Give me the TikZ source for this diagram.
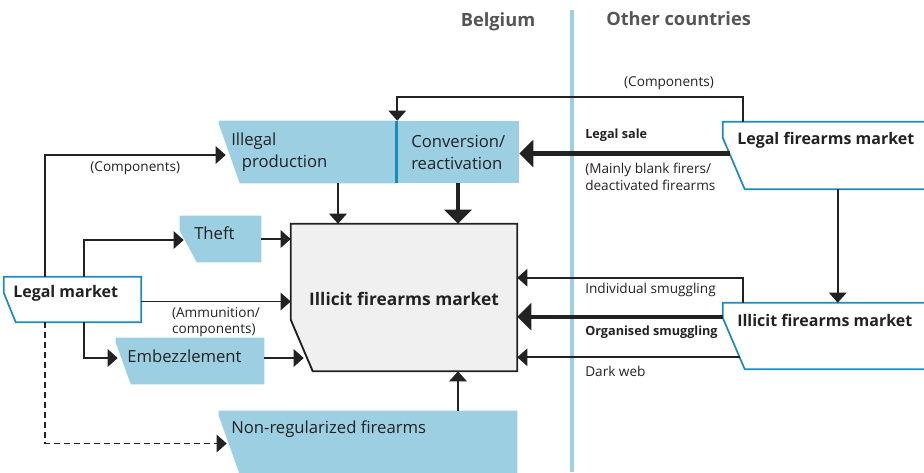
\documentclass[tikz,border=0pt]{standalone}
\usepackage{fontspec}
\setmainfont{Open Sans}
\usetikzlibrary{arrows.meta,calc,fit}
\definecolor{lblue}{HTML}{9BCFE1}
\definecolor{dblue}{HTML}{1A8DBB}
\definecolor{lgrey}{HTML}{F0F0F0}
\definecolor{ink}{HTML}{222222}
\definecolor{head}{HTML}{555555}

\begin{document}
\begin{tikzpicture}[x=0.75pt, y=-0.75pt,
    box/.style = {inner sep=0pt},
    lbl/.style = {font=\fontsize{10.2}{12.5}\selectfont, text=ink, align=left, inner sep=0pt},
    lblb/.style = {lbl, font=\bfseries\fontsize{9.5}{12}\selectfont},
    txt/.style = {font=\fontsize{12.5}{16.5}\selectfont, text=ink, align=left, inner sep=0pt},
    ttl/.style = {font=\bfseries\fontsize{12}{14}\selectfont, text=ink, inner sep=0pt},
    hd/.style = {font=\bfseries\fontsize{13.7}{16}\selectfont, text=head, inner sep=0pt},
    arr/.style = {draw=ink, line width=1.35pt, -{Triangle[length=7.5pt,width=13pt]}},
    bigarr/.style = {draw=ink, line width=3.3pt, -{Triangle[length=10.5pt,width=20pt]}},
    blue/.style = {fill=lblue},
    outl/.style = {fill=white, draw=dblue, line width=1.3pt},
    cbox/.style = {fill=lgrey, draw=ink, line width=1.4pt}]
      \useasboundingbox (0,0) rectangle (924,472);
      \clip (0,0) rectangle (924,472);

      % boxes
      \node [box, fit={(4,277) (141,322)}] (lm) {};
      \node [box, fit={(219,121) (397,183)}] (illprod) {};
      \node [box, fit={(397,121) (519,183)}] (conv) {};
      \node [box, fit={(180,216) (261,262)}] (theft) {};
      \node [box, fit={(116,338) (264,384)}] (emb) {};
      \node [box, fit={(219,411) (517,480)}] (nonreg) {};
      \node [box, fit={(291,224) (517,371)}] (central) {};
      \node [box, fit={(723,122) (935,189)}] (lfm) {};
      \node [box, fit={(723,303) (935,369)}] (ifm) {};

      \draw [lblue, line width=3pt] (572,10) -- (572,472);

      \foreach \n/\v/\d/\s in {lm/16/12/outl, lfm/16/22/outl, ifm/15/22/outl,
                               illprod/3/21/blue, theft/15/17/blue, emb/5/15/blue,
                               nonreg/5/23/blue, central/96/22/cbox}
               {
                 \path [\s] (\n.north west) -- (\n.north east) -- (\n.south east)
                   -- ($ (\n.south west) + (\d,0) $) -- ($ (\n.north west) + (0,\v) $) -- cycle;
               }
      \path [blue] (conv.north west) rectangle (conv.south east);
      \draw [dblue, line width=2pt] (conv.north west) -- (conv.south west);

      % texts
      \node [ttl, font=\bfseries\fontsize{13}{15}\selectfont] (central-t) at ($ (central) + (0,1) $) {Illicit firearms market};
      \node [ttl, anchor=west] (lm-t) at (13,293) {Legal market};
      \node [txt, anchor=west] (illprod-t) at (231,152) {Illegal\\\hspace*{8pt}production};
      \node [txt, anchor=west] (conv-t) at (411,152) {Conversion/\\reactivation};
      \node [txt, anchor=west] (theft-t) at (194,233) {Theft};
      \node [txt, anchor=west] (emb-t) at (127,356) {Embezzlement};
      \node [txt, anchor=west] (nonreg-t) at (231,429) {Non-regularized firearms};
      \node [ttl, anchor=west] (lfm-t) at (737,140) {Legal firearms market};
      \node [ttl, anchor=west] (ifm-t) at (737,320) {Illicit firearms market};
      \node [hd] (bel) at (498,22) {Belgium};
      \node [hd, anchor=west] (oth) at (606,19) {Other countries};

      \node [lbl] (comp2) at (669,83) {(Components)};
      \node [lblb, anchor=west] (sale) at (585,135) {Legal sale};
      \node [lbl, anchor=north west] (blank) at (585,163) {(Mainly blank firers/\\deactivated firearms};
      \node [lbl, anchor=west] (indiv) at (585,290) {Individual smuggling};
      \node [lblb, anchor=west] (orga) at (585,332) {Organised smuggling};
      \node [lbl, anchor=west] (dark) at (585,371) {Dark web};

      % connectors
      \draw [arr] ($ (lm.north west) + (41,0) $) |- ($ (illprod.west) + (7,3) $)
        node [lbl, pos=0.75, below=4pt] {(Components)};
      \draw [arr] ($ (lm.north west) + (80,0) $) |- ($ (theft.west) + (4,1) $);
      \draw [arr] (lm.east) ++(0,2) coordinate (a1) -- (a1 -| central.west)
        node [lbl, midway, below=3.5pt] {(Ammunition/\\components)};
      \draw [arr] ($ (lm.south west) + (80,0) $) |- ($ (emb.west) + (2,-3) $);
      \draw [arr, dash pattern=on 4.5pt off 3pt] ($ (lm.south west) + (41,0) $) |- ($ (nonreg.west) + (8,-2) $);
      \draw [arr] (theft.east) -- (theft.east -| central.west);
      \draw [arr] (emb.east) ++(0,-3) coordinate (a2) -- ($ (a2 -| central.west) + (13,0) $);
      \draw [arr] ($ (illprod.south) + (30,0) $) coordinate (a3) -- (a3 |- central.north);
      \draw [bigarr] (conv.south) -- (conv.south |- central.north);
      \draw [arr] (conv.south |- nonreg.north) -- (conv.south |- central.south);
      \draw [bigarr] ($ (lfm.west) + (7,-2) $) coordinate (a4) -- (a4 -| conv.east);
      \draw [arr] ($ (lfm.north west) + (20,0) $) -- ++(0,-25) -| (illprod.north east);
      \draw [arr] ($ (lfm.south west) + (115,0) $) coordinate (a5) -- (a5 |- ifm.north);
      \draw [arr] ($ (ifm.north west) + (20,0) $) -- ++(0,-25) coordinate (a6) -- (a6 -| central.east);
      \draw [bigarr] ($ (ifm.north west) + (0,14) $) coordinate (a7) -- (a7 -| central.east);
      \draw [arr] ($ (ifm.south west) + (17,-12) $) coordinate (a8) -- (a8 -| central.east);
    \end{tikzpicture}
\end{document}
